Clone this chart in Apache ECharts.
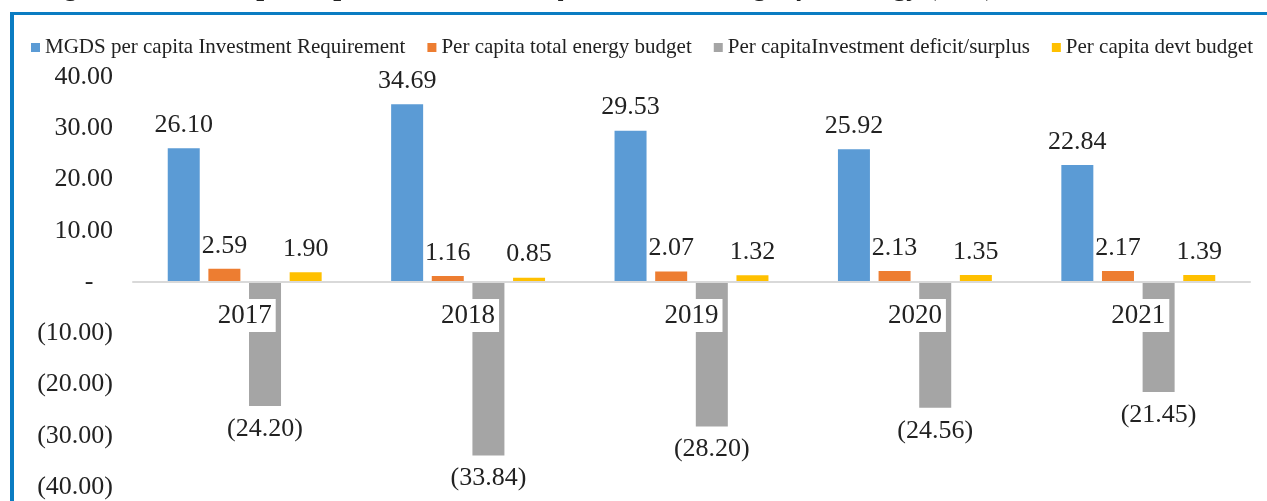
<!DOCTYPE html>
<html>
<head>
<meta charset="utf-8">
<script src="https://cdn.jsdelivr.net/npm/echarts@6/dist/echarts.min.js"></script>
<style>
  html, body { margin: 0; padding: 0; background: #fff; }
  #chart { width: 1267px; height: 501px; }
</style>
</head>
<body>
<div id="chart"></div>
<script>
// chart data
const years = ['2017', '2018', '2019', '2020', '2021'];
const investmentRequirement = [26.10, 34.69, 29.53, 25.92, 22.84];
const totalEnergyBudget = [2.59, 1.16, 2.07, 2.13, 2.17];
const investmentGap = [-24.20, -33.84, -28.20, -24.56, -21.45];
const devtBudget = [1.90, 0.85, 1.32, 1.35, 1.39];
const seriesNames = [
  'MGDS per capita Investment Requirement',
  'Per capita total energy budget',
  'Per capitaInvestment deficit/surplus',
  'Per capita devt budget'
];
const titleText = 'Figure 10: MGDS per Capita Investment Requirement vs Budget for Energy (US$)';

const serif = '"Liberation Serif", "DejaVu Serif", serif';

// grid placement, the x axis is pinned to the zero line
const gridTop = 77, gridBottom = 14, chartH = 501;
const yMin = -40, yMax = 40;
const plotH = chartH - gridTop - gridBottom;
const zeroOffset = -plotH * (0 - yMin) / (yMax - yMin);

function accounting(v) {
  if (v === 0) return '-   ';
  if (v < 0) return '(' + Math.abs(v).toFixed(2) + ')';
  return v.toFixed(2);
}

function makeSeries(name, data, color) {
  return {
    name: name,
    type: 'bar',
    data: data,
    barWidth: 32,
    barGap: '27%',
    itemStyle: { color: color },
    label: {
      show: true,
      position: 'outside',
      distance: 10,
      fontFamily: serif,
      fontSize: 26,
      color: '#222',
      formatter: function (p) { return accounting(p.value); }
    }
  };
}

const chart = echarts.init(document.getElementById('chart'));
chart.setOption({
  animation: false,
  backgroundColor: '#fff',
  legend: {
    left: 26,
    top: 32,
    itemWidth: 9,
    itemHeight: 9,
    itemGap: 22,
    icon: 'rect',
    textStyle: { fontFamily: serif, fontSize: 21, color: '#222' },
    data: seriesNames
  },
  grid: {
    left: 133, right: 17, top: gridTop, bottom: gridBottom,
    containLabel: false, outerBoundsMode: 'none'
  },
  xAxis: {
    type: 'category',
    data: years,
    z: 10,
    offset: zeroOffset,
    axisLine: { onZero: false, lineStyle: { color: '#d9d9d9', width: 2 } },
    axisTick: { show: false },
    axisLabel: {
      margin: 17,
      fontFamily: serif,
      fontSize: 27,
      color: '#222',
      backgroundColor: '#fff',
      padding: [3, 4, 3, 4]
    }
  },
  yAxis: {
    type: 'value',
    min: yMin,
    max: yMax,
    interval: 10,
    axisLine: { show: false },
    axisTick: { show: false },
    splitLine: { show: false },
    axisLabel: {
      margin: 20,
      fontFamily: serif,
      fontSize: 26,
      color: '#222',
      formatter: accounting
    }
  },
  graphic: [
    {
      type: 'text',
      left: 40,
      top: -26,
      z: 1,
      style: {
        text: titleText,
        font: 'italic bold 28px ' + serif,
        fill: '#222'
      }
    },
    {
      type: 'rect',
      left: 10,
      top: 12,
      z: 100,
      shape: { width: 1257, height: 3 },
      style: { fill: '#0a7cc2' }
    },
    {
      type: 'rect',
      left: 10,
      top: 12,
      z: 100,
      shape: { width: 4, height: 489 },
      style: { fill: '#0a7cc2' }
    }
  ],
  series: [
    makeSeries(seriesNames[0], investmentRequirement, '#5b9bd5'),
    makeSeries(seriesNames[1], totalEnergyBudget, '#ed7d31'),
    makeSeries(seriesNames[2], investmentGap, '#a5a5a5'),
    makeSeries(seriesNames[3], devtBudget, '#ffc000')
  ]
});
window.addEventListener('resize', function () { chart.resize(); });
</script>
</body>
</html>
